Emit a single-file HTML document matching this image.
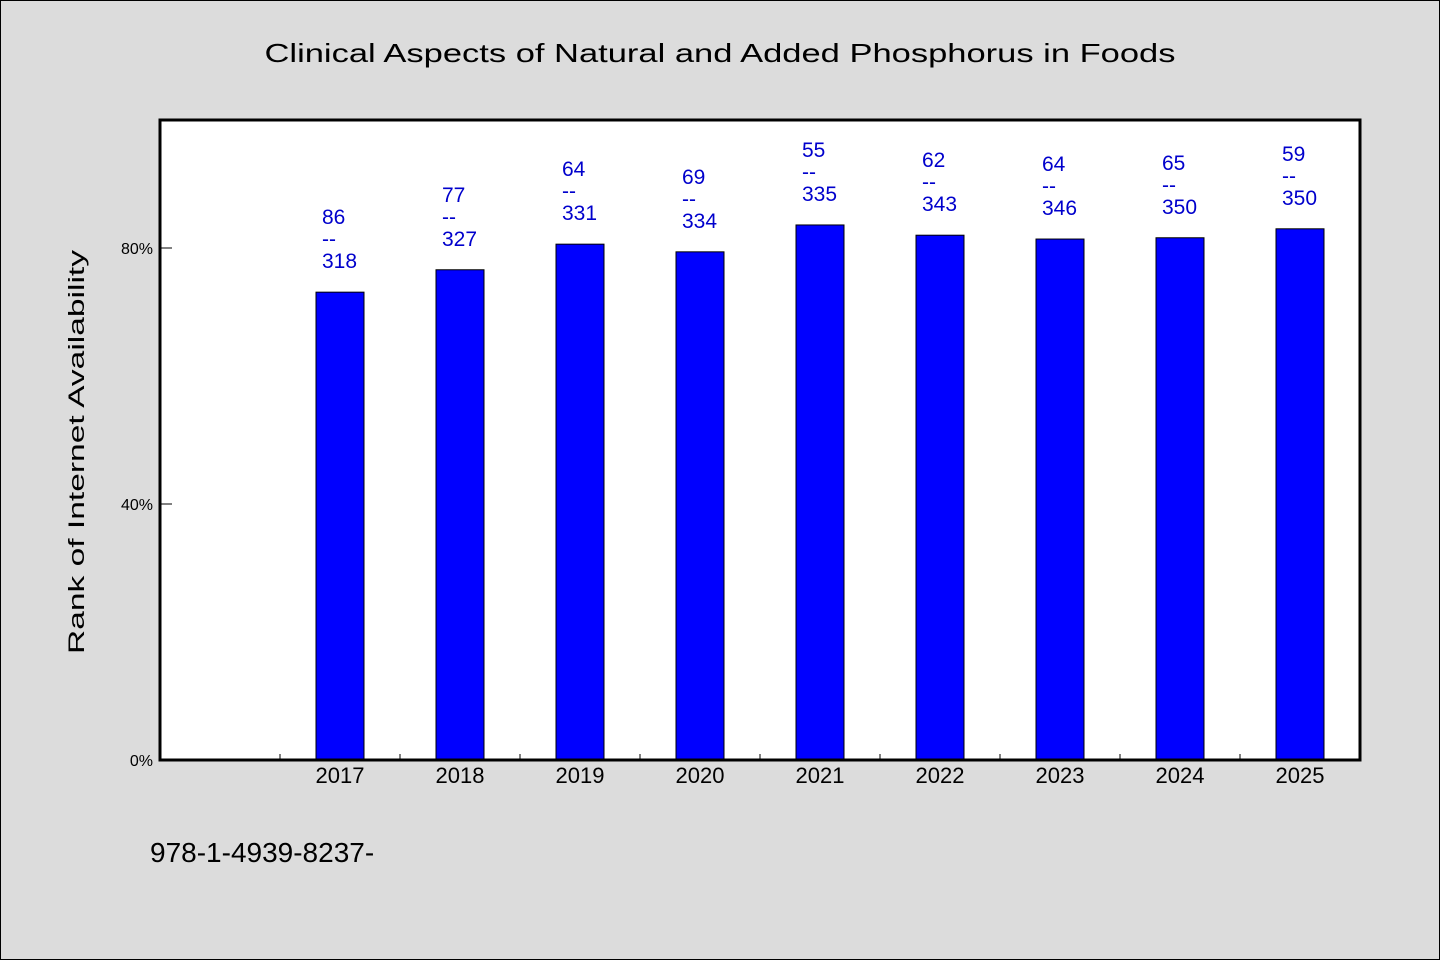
<!DOCTYPE html>
<html><head><meta charset="utf-8"><style>
html,body{margin:0;padding:0;background:#dcdcdc;}
svg{display:block;font-family:"WenQuanYi Zen Hei","Liberation Sans",sans-serif;}
</style></head><body>
<svg id="chart" width="1440" height="960" viewBox="0 0 1440 960">
<rect x="0.5" y="0.5" width="1439" height="959" fill="#dcdcdc" stroke="#000"/>
<text x="720" y="62" text-anchor="middle" font-size="26" textLength="911" lengthAdjust="spacingAndGlyphs">Clinical Aspects of Natural and Added Phosphorus in Foods</text>
<rect x="160" y="120" width="1200" height="640" fill="#fff"/>
<g id="marks"></g>
<rect x="160" y="120" width="1200" height="640" fill="none" stroke="#000" stroke-width="3"/>
<text transform="translate(84,452) rotate(-90)" text-anchor="middle" font-size="22" textLength="404" lengthAdjust="spacingAndGlyphs">Rank of Internet Availability</text>
<text x="150" y="862" font-size="28">978-1-4939-8237-</text>
</svg>
<script>
const categories=["2017","2018","2019","2020","2021","2022","2023","2024","2025"];
const percentValues=[73.1,76.6,80.6,79.4,83.6,82.0,81.4,81.6,83.0];
const topLabels=["86","77","64","69","55","62","64","65","59"];
const bottomLabels=["318","327","331","334","335","343","346","350","350"];
const yTicks=[0,40,80];
const ns="http://www.w3.org/2000/svg";
const g=document.getElementById("marks");
const x0=160,slot=120,yBase=760,pxPerPct=6.4;
const xPos=i=>x0+slot*(i+1)+slot/2;
const yPos=v=>yBase-v*pxPerPct;
function mk(tag,attrs,txt){const e=document.createElementNS(ns,tag);for(const k in attrs)e.setAttribute(k,attrs[k]);if(txt!==undefined)e.textContent=txt;g.appendChild(e);return e;}
yTicks.forEach(t=>{
 const l=mk("line",{x1:160,x2:172,y1:yPos(t),y2:yPos(t),stroke:"#000"});
 
 
 const tx=mk("text",{x:153,y:yPos(t)+6,"text-anchor":"end","font-size":16},t+"%");
 
 
});
for(let i=0;i<=categories.length;i++){
 const x=x0+slot*(i+1);
 const l=mk("line",{x1:x,x2:x,y1:760,y2:754,stroke:"#000"});
 
 
}
categories.forEach((c,i)=>{
 const cx=xPos(i),top=yPos(percentValues[i]);
 const b=mk("rect",{x:cx-24,y:top,width:48,height:yBase-top,fill:"#0000ff",stroke:"#000","stroke-width":1});
 
 
 const xl=mk("text",{x:cx,y:783,"text-anchor":"middle","font-size":22},c);
 
 
 const t1=mk("text",{x:cx-18,y:top-68,"font-size":21,fill:"#0000cc"},topLabels[i]);
 
 
 const t2=mk("text",{x:cx-18,y:top-46,"font-size":21,fill:"#0000cc"},"--");
 
 
 const t3=mk("text",{x:cx-18,y:top-24,"font-size":21,fill:"#0000cc"},bottomLabels[i]);
 
 
});
</script>
</body></html>
